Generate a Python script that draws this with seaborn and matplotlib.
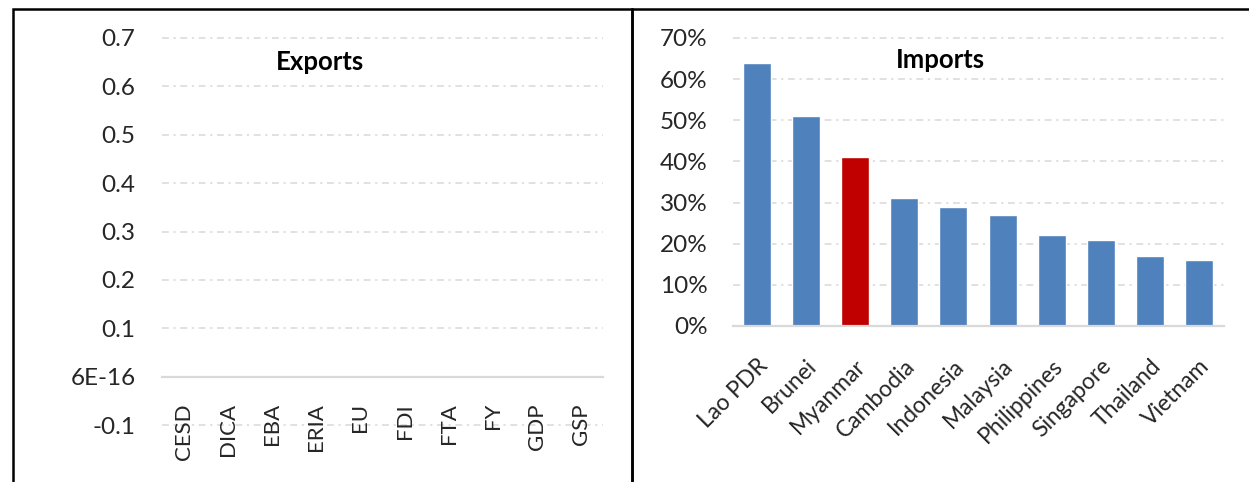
import matplotlib
matplotlib.use("Agg")
import matplotlib.pyplot as plt
import seaborn as sns
import pandas as pd
from matplotlib.patches import Rectangle
from matplotlib.ticker import FixedLocator, FixedFormatter, PercentFormatter

# Exports panel: categories only, no values
export_cats = ["CESD", "DICA", "EBA", "ERIA", "EU", "FDI", "FTA", "FY", "GDP", "GSP"]
export_ticks = [-0.1, 0.0, 0.1, 0.2, 0.3, 0.4, 0.5, 0.6, 0.7]
export_tick_labels = ["-0.1", "6E-16", "0.1", "0.2", "0.3", "0.4", "0.5", "0.6", "0.7"]

# Imports panel
import_countries = ["Lao PDR", "Brunei", "Myanmar", "Cambodia", "Indonesia",
                    "Malaysia", "Philippines", "Singapore", "Thailand", "Vietnam"]
import_share = [0.64, 0.51, 0.41, 0.31, 0.29, 0.27, 0.22, 0.21, 0.17, 0.16]
highlight = "Myanmar"

BLUE = "#4F81BD"
RED = "#C00000"
GRID = "#D9D9D9"
FONT = "Lato"

sns.set_theme(style="white")
plt.rcParams["font.family"] = [FONT, "DejaVu Sans"]

W, H = 1249, 482
fig = plt.figure(figsize=(W / 100, H / 100), dpi=100)


def fx(px):
    return px / W


def fy(py):
    return 1 - py / H


dashdot = (0, (4.5, 3, 1.5, 3))

# ---------- Exports ----------
axL = fig.add_axes([fx(162), fy(425), fx(603) - fx(162), fy(38) - fy(425)])
df_exp = pd.DataFrame({"cat": export_cats, "val": [float("nan")] * len(export_cats)})
sns.barplot(data=df_exp, x="cat", y="val", ax=axL, color=BLUE, width=0.57)
axL.set_xlim(-0.5, len(export_cats) - 0.5)
axL.set_ylim(-0.1, 0.7)
axL.yaxis.set_major_locator(FixedLocator(export_ticks))
axL.yaxis.set_major_formatter(FixedFormatter(export_tick_labels))
for t in export_ticks:
    if t != 0:
        axL.axhline(t, color=GRID, lw=1.1, linestyle=dashdot, zorder=0, clip_on=False)
for s in ["top", "right", "left"]:
    axL.spines[s].set_visible(False)
axL.spines["bottom"].set_position(("data", 0))
axL.spines["bottom"].set_color(GRID)
axL.spines["bottom"].set_linewidth(1.6)
axL.set_xticks(range(len(export_cats)))
axL.set_xticklabels(export_cats, rotation=90, va="top", ha="center", fontsize=16)
axL.tick_params(axis="x", length=0, pad=19)
axL.tick_params(axis="y", length=0, pad=19, labelsize=17.5)
axL.set_xlabel("")
axL.set_ylabel("")
fig.text(fx(320), fy(62), "Exports", ha="center", va="center",
         fontsize=18.5, fontweight="bold", color="black")

# ---------- Imports ----------
axR = fig.add_axes([fx(732.5), fy(326), fx(1223.5) - fx(732.5), fy(38) - fy(326)])
df_imp = pd.DataFrame({"country": import_countries, "share": import_share})
palette = {c: (RED if c == highlight else BLUE) for c in import_countries}
sns.barplot(data=df_imp, x="country", y="share", hue="country", palette=palette,
            legend=False, ax=axR, width=0.57, saturation=1, zorder=3)
axR.set_xlim(-0.5, len(import_countries) - 0.5)
axR.set_ylim(0, 0.7)
axR.set_yticks([i / 10 for i in range(8)])
axR.yaxis.set_major_formatter(PercentFormatter(1.0, decimals=0))
for i in range(1, 8):
    axR.axhline(i / 10, color=GRID, lw=1.1, linestyle=dashdot, zorder=0, clip_on=False)
for s in ["top", "right", "left"]:
    axR.spines[s].set_visible(False)
axR.spines["bottom"].set_color(GRID)
axR.spines["bottom"].set_linewidth(1.6)
axR.spines["bottom"].set_zorder(4)
axR.set_xticks(range(len(import_countries)))
axR.set_xticklabels(import_countries, rotation=45, ha="right", va="top",
                    rotation_mode="anchor", fontsize=16.5)
axR.tick_params(axis="x", length=0, pad=21)
axR.tick_params(axis="y", length=0, pad=18, labelsize=17.5)
axR.set_xlabel("")
axR.set_ylabel("")
fig.text(fx(940), fy(60), "Imports", ha="center", va="center",
         fontsize=18.5, fontweight="bold", color="black")

# ---------- panel frames ----------
fig.add_artist(Rectangle((fx(12.5), fy(500)), fx(632) - fx(12.5), fy(9) - fy(500),
                         transform=fig.transFigure, fill=False, edgecolor="black",
                         lw=1.8, clip_on=False))
fig.add_artist(Rectangle((fx(632), fy(500)), fx(1270) - fx(632), fy(9) - fy(500),
                         transform=fig.transFigure, fill=False, edgecolor="black",
                         lw=1.8, clip_on=False))

fig.savefig("out.png", dpi=100, facecolor="white")
